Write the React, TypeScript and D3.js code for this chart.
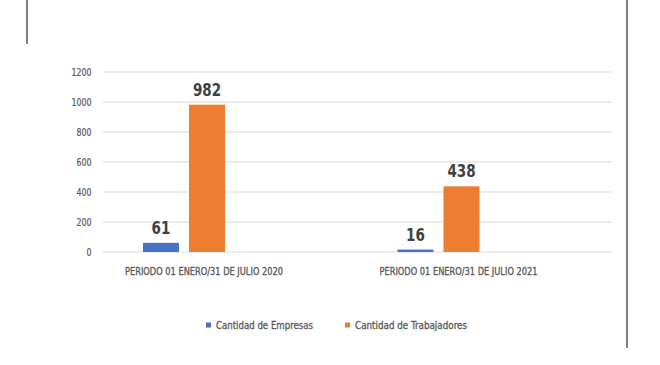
import React from 'react';
import * as d3 from 'd3';

const categories = ['PERIODO 01 ENERO/31 DE JULIO 2020', 'PERIODO 01 ENERO/31 DE JULIO 2021'];
const series = ['Cantidad de Empresas', 'Cantidad de Trabajadores'];
const empresas = [61, 16];
const trabajadores = [982, 438];
const yTicks = [0, 200, 400, 600, 800, 1000, 1200];
const colors = ['#4472C4', '#ED7D31'];

const W = 660;
const H = 365;
const left = 103;
const right = 612;
const top = 72;
const bottom = 252;
// narrow font to look like the condensed original
const font = "'DejaVu Sans Condensed', 'DejaVu Sans', sans-serif";

export default function App() {
  const x0 = d3.scaleBand<string>().domain(categories).range([left, right]);
  const x1 = d3.scaleBand<string>().domain(series).range([0, 82]).paddingInner(0.217);
  const y = d3.scaleLinear().domain([0, 1200]).range([bottom, top]);
  const values = [empresas, trabajadores];
  const legendW = [97, 112];

  return (
    <svg width={W} height={H} style={{ position: 'absolute', left: 0, top: 0, background: '#fff' }}>
      <line x1={27} x2={27} y1={0} y2={44} stroke="#555" strokeWidth={1.5} />
      <line x1={627} x2={627} y1={0} y2={348} stroke="#555" strokeWidth={1.5} />

      {yTicks.map(t => {
        const s = String(t);
        return (
          <g key={t}>
            <line x1={left} x2={right} y1={y(t)} y2={y(t)} stroke="#d9d9d9" strokeWidth={1} />
            <text x={91.5} y={y(t)} dy="0.35em" textAnchor="end" fontFamily={font} fontSize={10.5} fill="#595959"
              stroke="#595959" strokeWidth={0.2}
              textLength={s.length * 5} lengthAdjust="spacingAndGlyphs">{s}</text>
          </g>
        );
      })}

      {categories.map((c, i) => {
        const bx = (x0(c) ?? 0) + 40;
        return (
          <g key={c}>
            {series.map((s, j) => {
              const v = values[j][i];
              const xx = bx + (x1(s) ?? 0);
              const label = String(v);
              return (
                <g key={s}>
                  <rect x={xx} y={y(v)} width={x1.bandwidth()} height={y(0) - y(v)} fill={colors[j]} />
                  <text x={xx + x1.bandwidth() / 2} y={y(v) - 9} textAnchor="middle" fontFamily={font} fontWeight="bold" fontSize={18.5} fill="#404040"
                    textLength={label.length * 9.4} lengthAdjust="spacingAndGlyphs">{label}</text>
                </g>
              );
            })}
            <text x={(x0(c) ?? 0) + 101} y={274.5} textAnchor="middle" fontFamily={font} fontSize={10} fill="#595959"
              stroke="#595959" strokeWidth={0.3}
              textLength={158} lengthAdjust="spacingAndGlyphs">{c}</text>
          </g>
        );
      })}

      {series.map((s, j) => {
        const lx = j === 0 ? 206 : 345;
        return (
          <g key={s}>
            <rect x={lx} y={322.5} width={5} height={5} fill={colors[j]} />
            <text x={lx + 10} y={328.5} fontFamily={font} fontSize={10.5} fill="#595959"
              stroke="#595959" strokeWidth={0.3}
              textLength={legendW[j]} lengthAdjust="spacingAndGlyphs">{s}</text>
          </g>
        );
      })}
    </svg>
  );
}
